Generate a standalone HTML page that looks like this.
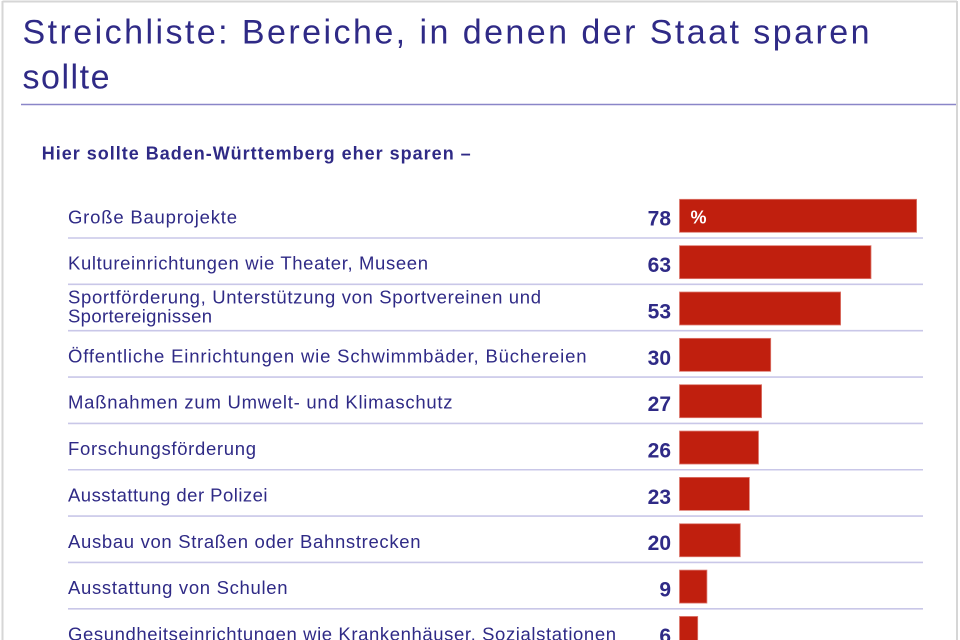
<!DOCTYPE html>
<html>
<head>
<meta charset="utf-8">
<style>
html,body{margin:0;padding:0;background:#fff;}
svg{display:block;}
text{font-family:"Liberation Sans",Arial,sans-serif;}
</style>
</head>
<body>
<svg width="960" height="640" viewBox="0 0 960 640" xmlns="http://www.w3.org/2000/svg">
<rect x="0" y="0" width="960" height="640" fill="#fff"/>
<!-- outer frame -->
<line x1="2.5" y1="1.5" x2="957" y2="1.5" stroke="#d6d6d6" stroke-width="2"/>
<line x1="2.5" y1="1" x2="2.5" y2="640" stroke="#d6d6d6" stroke-width="2"/>
<line x1="957" y1="1" x2="957" y2="640" stroke="#d6d6d6" stroke-width="2"/>

<!-- title -->
<text x="22.5" y="43.3" font-size="34" fill="#2f2a86" textLength="847" lengthAdjust="spacing">Streichliste: Bereiche, in denen der Staat sparen</text>
<text x="22.5" y="88.5" font-size="34" fill="#2f2a86" textLength="87" lengthAdjust="spacing">sollte</text>
<line x1="21" y1="104.5" x2="956" y2="104.5" stroke="#8a86c8" stroke-width="1.5"/>

<!-- subtitle -->
<text x="41.7" y="159.3" font-size="18" font-weight="bold" fill="#2f2a86" textLength="429" lengthAdjust="spacing">Hier sollte Baden-Württemberg eher sparen –</text>

<!-- separators -->
<g stroke="#c9c7e8" stroke-width="1.6">
<line x1="68" y1="238" x2="923" y2="238"/>
<line x1="68" y1="284.35" x2="923" y2="284.35"/>
<line x1="68" y1="330.7" x2="923" y2="330.7"/>
<line x1="68" y1="377.05" x2="923" y2="377.05"/>
<line x1="68" y1="423.4" x2="923" y2="423.4"/>
<line x1="68" y1="469.75" x2="923" y2="469.75"/>
<line x1="68" y1="516.1" x2="923" y2="516.1"/>
<line x1="68" y1="562.45" x2="923" y2="562.45"/>
<line x1="68" y1="608.8" x2="923" y2="608.8"/>
</g>

<!-- labels -->
<g font-size="18.5" fill="#2f2a86">
<text x="68" y="223.3" textLength="169" lengthAdjust="spacing">Große Bauprojekte</text>
<text x="68" y="269.65" textLength="360" lengthAdjust="spacing">Kultureinrichtungen wie Theater, Museen</text>
<text x="68" y="303.3" textLength="473" lengthAdjust="spacing">Sportförderung, Unterstützung von Sportvereinen und</text>
<text x="68" y="322.7" textLength="144" lengthAdjust="spacing">Sportereignissen</text>
<text x="68" y="362.35" textLength="518.5" lengthAdjust="spacing">Öffentliche Einrichtungen wie Schwimmbäder, Büchereien</text>
<text x="68" y="408.7" textLength="384.5" lengthAdjust="spacing">Maßnahmen zum Umwelt- und Klimaschutz</text>
<text x="68" y="455.05" textLength="188" lengthAdjust="spacing">Forschungsförderung</text>
<text x="68" y="501.4" textLength="199.5" lengthAdjust="spacing">Ausstattung der Polizei</text>
<text x="68" y="547.75" textLength="352.5" lengthAdjust="spacing">Ausbau von Straßen oder Bahnstrecken</text>
<text x="68" y="594.1" textLength="219.5" lengthAdjust="spacing">Ausstattung von Schulen</text>
<text x="68" y="640.45" textLength="548" lengthAdjust="spacing">Gesundheitseinrichtungen wie Krankenhäuser, Sozialstationen</text>
</g>

<!-- values -->
<g font-size="21" font-weight="bold" fill="#2f2a86" text-anchor="end">
<text x="671" y="225.7">78</text>
<text x="671" y="272.05">63</text>
<text x="671" y="318.4">53</text>
<text x="671" y="364.75">30</text>
<text x="671" y="411.1">27</text>
<text x="671" y="457.45">26</text>
<text x="671" y="503.8">23</text>
<text x="671" y="550.15">20</text>
<text x="671" y="596.5">9</text>
<text x="671" y="642.85">6</text>
</g>

<!-- bars -->
<g fill="#c01f0e" stroke="#dd7a70" stroke-width="0.8">
<rect x="679.5" y="199.3" width="237.1" height="33"/>
<rect x="679.5" y="245.65" width="191.5" height="33"/>
<rect x="679.5" y="292" width="161.1" height="33"/>
<rect x="679.5" y="338.35" width="91.2" height="33"/>
<rect x="679.5" y="384.7" width="82.1" height="33"/>
<rect x="679.5" y="431.05" width="79" height="33"/>
<rect x="679.5" y="477.4" width="69.9" height="33"/>
<rect x="679.5" y="523.75" width="60.8" height="33"/>
<rect x="679.5" y="570.1" width="27.4" height="33"/>
<rect x="679.5" y="616.45" width="18.2" height="33"/>
</g>
<text x="690.5" y="223.3" font-size="18" font-weight="bold" fill="#ffffff">%</text>
</svg>
</body>
</html>
